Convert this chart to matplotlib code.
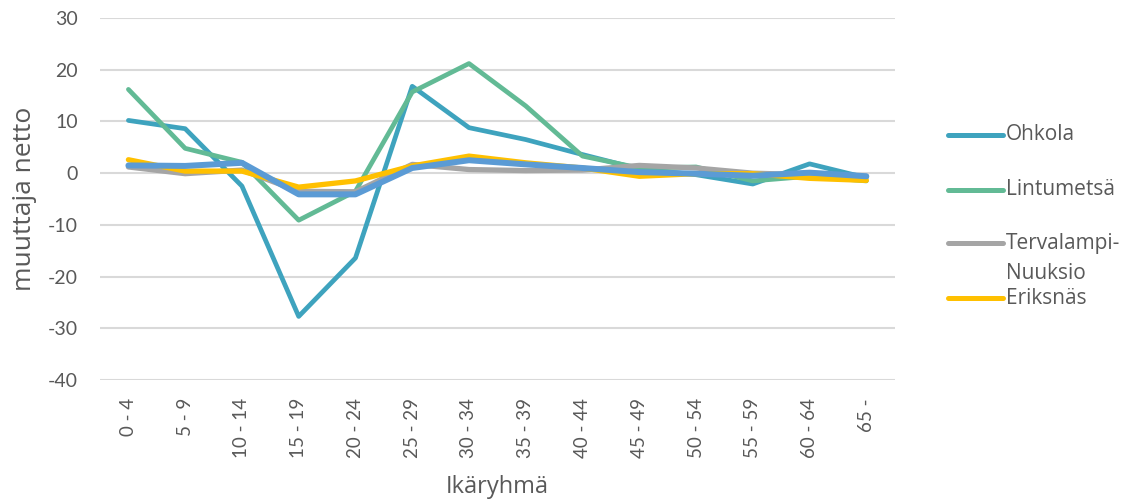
import matplotlib
matplotlib.use("Agg")
import matplotlib.pyplot as plt
import numpy as np

plt.rcParams['font.family'] = ['Lato', 'DejaVu Sans']
plt.rcParams['axes.unicode_minus'] = False

# age groups
ikaryhmat = ['0 - 4', '5 - 9', '10 - 14', '15 - 19', '20 - 24', '25 - 29', '30 - 34',
             '35 - 39', '40 - 44', '45 - 49', '50 - 54', '55 - 59', '60 - 64', '65 -']

# net migrants per area
ohkola = [10.2, 8.6, -2.5, -27.7, -16.4, 16.8, 8.8, 6.5, 3.6, 0.8, -0.3, -2.1, 1.8, -0.9]
lintumetsa = [16.2, 4.8, 2.1, -9.1, -3.5, 15.7, 21.2, 13.0, 3.3, 1.0, 1.2, -1.5, -0.6, -1.5]
tervalampi = [1.2, -0.1, 0.6, -3.5, -3.6, 1.7, 0.7, 0.5, 0.6, 1.5, 1.0, 0.0, -0.3, -0.6]
eriksnas = [2.6, 0.4, 0.4, -2.7, -1.5, 1.4, 3.3, 2.0, 1.0, -0.6, -0.1, -0.1, -1.0, -1.4]
kaikki = [1.5, 1.4, 2.0, -4.1, -4.1, 1.0, 2.5, 1.7, 1.0, 0.2, -0.1, -0.5, 0.1, -0.6]

sarjat = [('Ohkola', ohkola, '#3EA3BE', 3.4),
          ('Lintumetsä', lintumetsa, '#62BA95', 3.4),
          ('Tervalampi-\nNuuksio', tervalampi, '#A5A5A5', 3.8),
          ('Eriksnäs', eriksnas, '#FFC000', 3.8)]

x = np.arange(len(ikaryhmat))

fig = plt.figure(figsize=(11.24, 5.01), dpi=100)
ax = fig.add_axes([0.089, 0.2415, 0.707, 0.7225])

for nimi, arvot, vari, lw in sarjat:
    ax.plot(x, arvot, color=vari, lw=lw, solid_capstyle='round')
# last series is not shown in the legend (cut off in the original)
ax.plot(x, kaikki, color='#5B9BD5', lw=4.3, solid_capstyle='round')

ax.set_xlim(-0.5, len(ikaryhmat) - 0.5)
ax.set_ylim(-40, 30)
ax.set_yticks(np.arange(-40, 31, 10))
ax.set_xticks(x)
ax.set_xticklabels(ikaryhmat, rotation=90, fontsize=13.5, color='#595959')
ax.tick_params(axis='y', labelsize=14, colors='#595959', length=0, pad=16)
ax.tick_params(axis='x', length=0, pad=13)

ax.grid(axis='y', color='#D9D9D9', lw=1.5)
ax.set_axisbelow(True)
for s in ax.spines.values():
    s.set_visible(False)

ax.set_ylabel('muuttaja netto', fontsize=19, color='#595959', labelpad=8, family='Open Sans')
ax.set_xlabel('Ikäryhmä', fontsize=17, color='#595959', labelpad=12, family='Open Sans')

# legend drawn by hand so the wrapped label lines up like the original
leg_y = [0.677, 0.525, 0.378, 0.2265]
for (nimi, arvot, vari, lw), yy in zip(sarjat, leg_y):
    ax.plot([1.067, 1.136], [yy, yy], color=vari, lw=3.6, solid_capstyle='round',
            transform=ax.transAxes, clip_on=False)
    for i, rivi in enumerate(nimi.split('\n')):
        ax.text(1.14, yy - i * 0.083, rivi, transform=ax.transAxes, va='center', ha='left',
                fontsize=15, color='#595959', family='Open Sans')

fig.savefig('out.png', dpi=100)
